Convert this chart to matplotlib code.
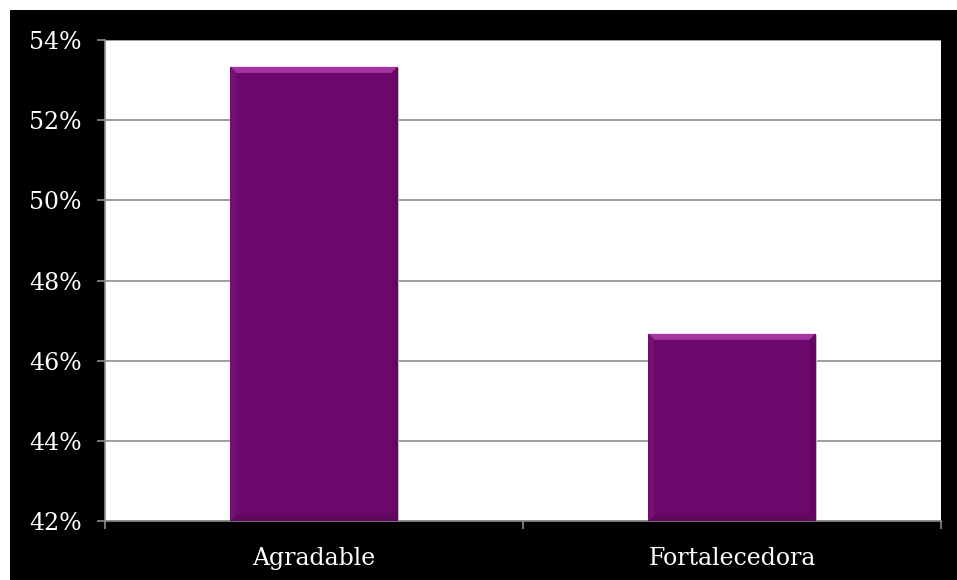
import matplotlib
matplotlib.use('Agg')
import matplotlib.pyplot as plt
from matplotlib.patches import Rectangle, Polygon
from matplotlib.transforms import IdentityTransform
from matplotlib.ticker import FuncFormatter

# datos
categorias = ['Agradable', 'Fortalecedora']
porcentajes = [53.33, 46.67]
ticks_y = [42, 44, 46, 48, 50, 52, 54]

plt.rcParams['font.family'] = ['DejaVu Serif']

fig = plt.figure(figsize=(9.57, 5.80), dpi=100)
fig.patch.set_facecolor('white')
# fondo negro
fig.patches.append(Rectangle((10 / 957, 0), 1, 1 - 10 / 580, transform=fig.transFigure,
                             facecolor='black', edgecolor='none', zorder=-10))

ax = fig.add_axes([105 / 957, 1 - 521 / 580, 836 / 957, 481 / 580])
ax.set_zorder(5)
ax.set_facecolor('white')

x = range(len(categorias))
barras = ax.bar(x, [p - 42 for p in porcentajes], bottom=42, width=0.4,
                color='#6c086c', edgecolor='none', zorder=3)

ax.set_ylim(42, 54)
ax.set_xlim(-0.5, len(categorias) - 0.5)
ax.set_yticks(ticks_y)
ax.yaxis.set_major_formatter(FuncFormatter(lambda v, p: '%d%%' % v))
ax.yaxis.grid(True, color='#8c8c8c', linewidth=1.2, zorder=1)
ax.set_axisbelow(True)

ax.set_xticks([i - 0.5 for i in range(len(categorias) + 1)])
ax.set_xticklabels([])
ax.set_xticks(list(x), minor=True)
ax.set_xticklabels(categorias, minor=True)
ax.tick_params(axis='x', which='minor', length=0, pad=19)
ax.tick_params(axis='x', which='major', length=6, width=1.2)
ax.tick_params(axis='y', length=6, width=1.2, pad=11)
ax.tick_params(labelcolor='white', labelsize=17, which='both')
ax.tick_params(axis='both', which='both', color='#8c8c8c')

for s in ['top', 'right']:
    ax.spines[s].set_visible(False)
ax.spines['left'].set_color('#8c8c8c')
ax.spines['bottom'].set_color('#8c8c8c')
ax.spines['left'].set_linewidth(1.2)
ax.spines['bottom'].set_linewidth(1.2)

# bisel de las barras
fig.canvas.draw()
b = 6
for barra in barras:
    bb = barra.get_window_extent()
    x0, y0, x1, y1 = bb.x0, bb.y0, bb.x1, bb.y1
    partes = [
        ([(x0, y1), (x1, y1), (x1 - b, y1 - b), (x0 + b, y1 - b)], '#a535a2'),
        ([(x0, y0), (x1, y0), (x1 - b, y0 + b), (x0 + b, y0 + b)], '#5e075d'),
        ([(x0, y0), (x0, y1), (x0 + b, y1 - b), (x0 + b, y0 + b)], '#741273'),
        ([(x1, y0), (x1, y1), (x1 - b, y1 - b), (x1 - b, y0 + b)], '#630762'),
    ]
    for pts, c in partes:
        ax.add_patch(Polygon(pts, closed=True, facecolor=c, edgecolor='none',
                             transform=IdentityTransform(), zorder=4))
    ax.add_patch(Rectangle((x0 + 1, y0 - 1), x1 - x0, y1 - y0, facecolor='#bbbbbb',
                           edgecolor='none', transform=IdentityTransform(), zorder=2))

fig.savefig('out.png', dpi=100, facecolor=fig.get_facecolor())
